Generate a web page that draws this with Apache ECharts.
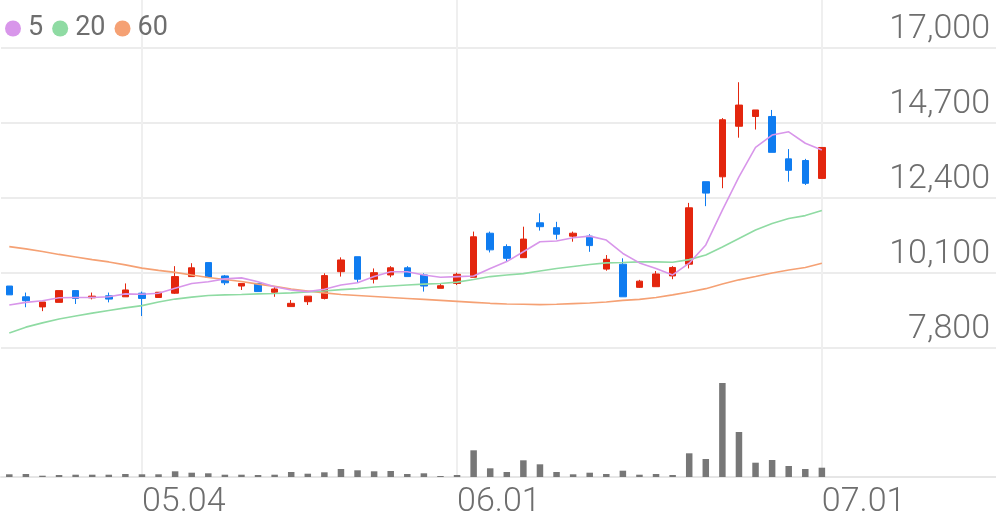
<!DOCTYPE html>
<html><head><meta charset="utf-8">
<script src="https://cdn.jsdelivr.net/npm/echarts@6/dist/echarts.min.js"></script>
<style>html,body{margin:0;padding:0;background:#fff}#c{width:996px;height:519px}</style>
</head><body><div id="c"></div>
<script>
const dates = ['04.20','04.21','04.22','04.23','04.24','04.27','04.28','04.29',
  '05.04','05.06','05.07','05.08','05.11','05.12','05.13','05.14','05.15','05.18','05.19','05.20','05.21','05.22','05.25','05.26','05.27','05.28','05.29',
  '06.01','06.02','06.03','06.04','06.05','06.08','06.09','06.10','06.11','06.12','06.15','06.16','06.17','06.18','06.19','06.22','06.23','06.24','06.25','06.26','06.29','06.30',
  '07.01'];
const opens  = [9700,9370,9060,9200,9560,9340,9400,9370,9480,9350,9480,9990,10420,10010,9700,9780,9510,9070,9220,9320,10140,10600,9910,10040,10260,10040,9630,9780,9970,11320,10910,10570,11640,11490,11230,11230,10220,10370,9660,9680,10010,10370,12900,13050,14600,14900,14900,13600,13550,13000];
const closes = [9430,9250,9210,9560,9320,9390,9300,9580,9320,9510,9990,10260,9970,9800,9780,9530,9610,9170,9390,10020,10500,9910,10110,10260,9990,9700,9710,10060,11210,10810,10550,11140,11520,11290,11320,10940,10520,9370,9850,10070,10270,12100,12550,14800,15250,15100,13800,13250,12850,13950];
const lows   = [9430,9050,8930,9200,9150,9290,9200,9370,8780,9350,9460,9990,9970,9730,9580,9530,9370,9070,9120,9290,9990,9800,9780,9970,9990,9530,9630,9730,9970,10730,10450,10570,11400,11130,11060,10750,10170,9370,9640,9680,9910,10240,12150,12700,14250,14500,13800,12900,12800,13000];
const highs  = [9700,9500,9210,9560,9560,9500,9500,9780,9530,9510,10310,10400,10420,10040,9780,9780,9680,9270,9390,10090,10580,10600,10240,10310,10310,10090,9780,10110,11370,11370,10980,11520,11930,11670,11370,11290,10650,10550,9890,10160,10310,12250,12900,14850,15950,15100,15100,13900,13600,13950];
const ma5  = [9120,9200,9250,9340,9350,9350,9370,9460,9450,9480,9630,9780,9830,9920,9950,9830,9680,9580,9530,9600,9730,9800,9990,10140,10140,10040,9970,9990,10010,10240,10450,10750,11060,11080,11180,11230,11110,10700,10410,10240,10040,10400,10960,12030,13050,13950,14330,14430,14080,13870];
const ma20 = [8260,8440,8570,8690,8780,8870,8950,9030,9100,9210,9300,9360,9410,9430,9440,9460,9470,9490,9520,9550,9590,9620,9670,9700,9730,9760,9780,9820,9900,9990,10040,10080,10160,10240,10300,10360,10410,10420,10440,10440,10430,10510,10650,10900,11160,11420,11620,11770,11860,12020];
const ma60 = [10910,10840,10760,10670,10590,10510,10440,10350,10250,10180,10120,10040,9960,9900,9840,9760,9690,9610,9550,9490,9440,9410,9380,9350,9320,9290,9260,9230,9200,9170,9150,9140,9130,9140,9160,9180,9210,9260,9290,9350,9430,9520,9620,9760,9890,9990,10100,10190,10270,10400];
const volumes = [27,30,13,20,23,23,23,30,27,27,57,43,37,23,23,20,23,50,33,47,80,67,57,60,30,37,10,20,267,87,50,167,127,50,27,43,30,63,23,30,20,237,180,940,450,143,170,110,80,93];
const priceTicks = [7800,10100,12400,14700,17000];
const dateTicks = ['05.04','06.01','07.01'];
const maNames = ['5','20','60'];

// empty slots to the right of the last candle
const cats = dates.slice();
for (let i = 0; i < 10; i++) cats.push('pad' + i);
const candles = opens.map((o, i) => [o, closes[i], lows[i], highs[i]]);

const UP = '#e3260e', DOWN = '#0f7cf0';
const TXT = '#6e6e6e';
const maColors = ['#d896ea', '#8fdba3', '#f5a174'];
const fontFam = 'Roboto, sans-serif';

const chart = echarts.init(document.getElementById('c'), null, {renderer: 'canvas'});
chart.setOption({
  animation: false,
  backgroundColor: '#fff',
  legend: {
    left: 0, top: 10, itemWidth: 16, itemHeight: 16, itemGap: 9,
    data: maNames.map(n => ({name: n, icon: 'circle'})),
    textStyle: {fontSize: 27, color: TXT, fontFamily: fontFam, padding: [0,0,0,2]}
  },
  grid: [
    {left: 1, right: 0, top: 48, height: 300},
    {left: 1, right: 0, top: 377, height: 100},
    {left: 9.29, right: 8.3, top: 0, height: 477}
  ],
  xAxis: [
    {type: 'category', gridIndex: 0, data: cats, axisLine: {show: false}, axisTick: {show: false}, axisLabel: {show: false}, splitLine: {show: false}},
    {type: 'category', gridIndex: 1, data: cats, axisLine: {show: true, lineStyle: {color: '#e6e6e6', width: 2}}, axisTick: {show: false}, axisLabel: {show: false}, splitLine: {show: false}},
    {type: 'category', gridIndex: 2, data: cats, boundaryGap: false,
      axisLine: {show: false}, axisTick: {show: false},
      axisLabel: {interval: (i, v) => dateTicks.includes(v), align: 'left', margin: 8, fontSize: 34, color: TXT, fontFamily: fontFam, fontWeight: 300},
      splitLine: {show: true, interval: (i, v) => dateTicks.includes(v), lineStyle: {color: '#efefef', width: 2}}}
  ],
  yAxis: [
    {type: 'value', gridIndex: 0, position: 'right', min: 7800, max: 17000, scale: true,
      axisLine: {show: false}, axisTick: {show: false, customValues: priceTicks},
      axisLabel: {inside: true, customValues: priceTicks, margin: 6, verticalAlign: 'bottom', padding: [0,0,2,0], fontSize: 34, color: TXT, fontFamily: fontFam, fontWeight: 300,
        formatter: v => Number(v).toLocaleString('en-US')},
      splitLine: {show: true, lineStyle: {color: '#ececec', width: 2}}},
    {type: 'value', gridIndex: 1, min: 0, max: 1000, show: false},
    {type: 'value', gridIndex: 2, min: 0, max: 1, show: false}
  ],
  series: [
    {name: '60', type: 'line', xAxisIndex: 0, yAxisIndex: 0, data: ma60, symbol: 'none', lineStyle: {color: maColors[2], width: 1.6}, itemStyle: {color: maColors[2]}},
    {name: '20', type: 'line', xAxisIndex: 0, yAxisIndex: 0, data: ma20, symbol: 'none', lineStyle: {color: maColors[1], width: 1.6}, itemStyle: {color: maColors[1]}},
    {name: '5', type: 'line', xAxisIndex: 0, yAxisIndex: 0, data: ma5, symbol: 'none', lineStyle: {color: maColors[0], width: 1.6}, itemStyle: {color: maColors[0]}},
    {name: 'price', type: 'candlestick', xAxisIndex: 0, yAxisIndex: 0, data: candles, barWidth: 7,
      itemStyle: {color: UP, color0: DOWN, borderColor: UP, borderColor0: DOWN, borderWidth: 1}},
    {name: 'volume', type: 'bar', xAxisIndex: 1, yAxisIndex: 1, data: volumes, barWidth: 6.5, itemStyle: {color: '#777777'}}
  ]
});
</script></body></html>
